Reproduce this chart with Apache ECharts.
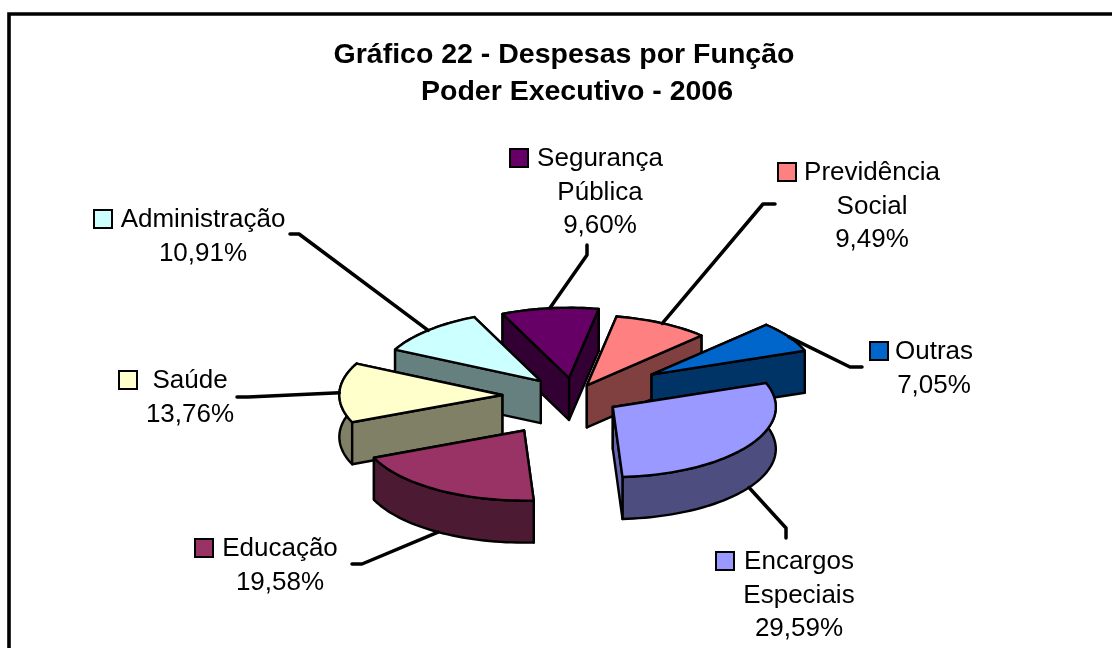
<!DOCTYPE html>
<html><head><meta charset="utf-8">
<style>html,body{margin:0;padding:0;background:#fff}#c{width:1112px;height:648px}</style>
<script src="https://cdn.jsdelivr.net/npm/echarts@6/dist/echarts.min.js"></script>
</head><body><div id="c"></div>
<script>
// --- data
const categories = ['Previdência Social','Outras','Encargos Especiais','Educação','Saúde','Administração','Segurança Pública'];
const values = [9.49,7.05,29.59,19.58,13.76,10.91,9.60];
const explosion = [0.17,0.565,0.285,0.58,0.44,0.295,0.26];   // Excel-style per-point explosion (fraction of radius)
const titleLines = ['Gráfico 22 - Despesas por Função','Poder Executivo - 2006'];
// --- styles
const topColors = ['#FF8080','#0066CC','#9999FF','#993366','#FFFFCC','#CCFFFF','#660066'];
const wallColors = ['#804040','#003366','#4D4D80','#4D1A33','#808066','#668080','#330033'];
const radialColors = ['#804040','#003366','#6666B3','#4D1A33','#808066','#668080','#330033'];
const drawOrder = [6,5,0,1,4,2,3];
// --- pie geometry
const pie = {cx:574,cy:396,r:163,k:0.43,depth:42,start:10.5};
// --- label layout: line centre x, first-line y, key x; leader start and elbow
const labelLines = [['Previdência','Social'],['Outras'],['Encargos','Especiais'],['Educação'],['Saúde'],['Administração'],['Segurança','Pública']];
const labelPos = [[872,172,787],[934,351,879],[799,561,725],[280,548,204],[190,380,128],[203,219,103],[600,158,519]];
const leaderPts = [[[775,204],[763,204]],[[862,367],[850,367]],[[786,538],[786,528]],[[352,564],[362,564]],[[237,397],[248,397]],[[290,234],[299,234]],[[587,245],[587,255]]];
const lineGap = 33.5, font = '"Liberation Sans", Arial, sans-serif';
const fmt = v => v.toFixed(2).replace('.',',')+'%';
const total = values.reduce((a,b)=>a+b,0);
const sweeps = values.map(v=>v/total*360);
const starts = sweeps.map((s,i)=>pie.start+sweeps.slice(0,i).reduce((a,b)=>a+b,0));
const rad = d=>d*Math.PI/180;
function dir(a){return [Math.sin(rad(a)),-pie.k*Math.cos(rad(a))];}
function renderItem(params,api){
  const i = api.value(0);
  const a0 = starts[i], a1 = a0+sweeps[i], mid=(a0+a1)/2;
  const d = dir(mid), e = explosion[i]*pie.r;
  const ax = pie.cx+d[0]*e, ay = pie.cy+d[1]*e;
  const rim=[]; const n=Math.ceil(sweeps[i]/2);
  for(let j=0;j<=n;j++){const t=dir(a0+(a1-a0)*j/n); rim.push([ax+t[0]*pie.r,ay+t[1]*pie.r]);}
  const dn=p=>[p[0],p[1]+pie.depth];
  const walls=[
    {pts:[[ax,ay],rim[0],dn(rim[0]),[ax,ay+pie.depth]],fill:radialColors[i]},
    {pts:[[ax,ay],rim[n],dn(rim[n]),[ax,ay+pie.depth]],fill:radialColors[i]},
    {pts:rim.concat(rim.slice().reverse().map(dn)),fill:wallColors[i]}
  ];
  const meanY=p=>p.reduce((s,q)=>s+q[1],0)/p.length;
  walls.sort((x,y)=>meanY(x.pts)-meanY(y.pts));
  const ss={stroke:'#000',lineWidth:2.4,lineJoin:'round'};
  const children=walls.map(w=>({type:'polygon',shape:{points:w.pts},style:Object.assign({fill:w.fill},ss)}));
  children.push({type:'polygon',shape:{points:[[ax,ay]].concat(rim)},style:Object.assign({fill:topColors[i]},ss)});
  return {type:'group',children};
}
function renderLabel(params,api){
  const i=api.value(0);
  const a0=starts[i],mid=a0+sweeps[i]/2,d=dir(mid),e=explosion[i]*pie.r;
  const ax=pie.cx+d[0]*e+d[0]*pie.r, ay=pie.cy+d[1]*e+d[1]*pie.r+(Math.cos(rad(mid))<0?pie.depth:0);
  const p=labelPos[i], lines=labelLines[i].concat([fmt(values[i])]);
  const children=[{type:'polyline',shape:{points:leaderPts[i].concat([[ax,ay]])},style:{stroke:'#000',lineWidth:3.5,fill:null,lineJoin:'round',lineCap:'round'}},
    {type:'rect',shape:{x:p[2]-9,y:p[1]-9,width:18,height:18},style:{fill:topColors[i],stroke:'#000',lineWidth:2}}];
  lines.forEach((t,j)=>children.push({type:'text',style:{text:t,x:p[0],y:p[1]+1+j*lineGap,align:'center',verticalAlign:'middle',fill:'#000',font:'26px '+font}}));
  return {type:'group',children};
}
const chart=echarts.init(document.getElementById('c'),null,{renderer:'canvas'});
const titleStyle={fontFamily:font,fontSize:28.5,fontWeight:'bold',color:'#000'};
chart.setOption({
  animation:false,backgroundColor:'#fff',
  title:[
    {text:titleLines[0],left:559,top:36,textAlign:'center',textStyle:titleStyle},
    {text:titleLines[1],left:572,top:73,textAlign:'center',textStyle:titleStyle}
  ],
  graphic:[{type:'polyline',shape:{points:[[9,660],[9,14],[1125,14]]},style:{stroke:'#000',lineWidth:3.6,fill:null},silent:true}],
  series:[
    {type:'custom',coordinateSystem:'none',renderItem,data:drawOrder.map(i=>[i,values[i]]),silent:true,clip:false,z:2},
    {type:'custom',coordinateSystem:'none',renderItem:renderLabel,data:categories.map((c,i)=>[i,values[i]]),silent:true,clip:false,z:3}
  ]
});
</script></body></html>
